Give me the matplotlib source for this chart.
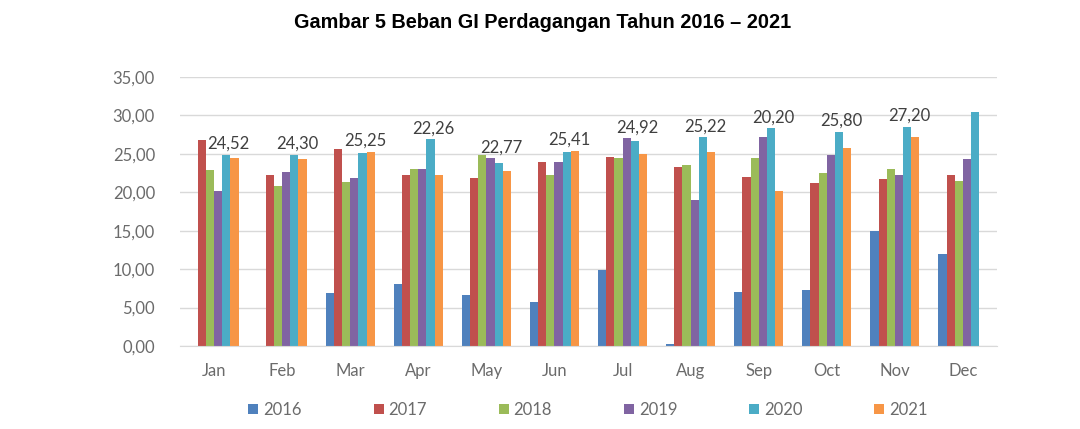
import numpy as np
import matplotlib.pyplot as plt
from matplotlib.ticker import FuncFormatter

# data
months = ['Jan', 'Feb', 'Mar', 'Apr', 'May', 'Jun', 'Jul', 'Aug', 'Sep', 'Oct', 'Nov', 'Dec']
years = ['2016', '2017', '2018', '2019', '2020', '2021']

y2016 = [0.0, 0.0, 6.85, 8.07, 6.6, 5.77, 9.9, 0.2, 7.0, 7.3, 15.0, 12.0]
y2017 = [26.8, 22.25, 25.6, 22.25, 21.8, 24.0, 24.6, 23.3, 22.0, 21.25, 21.7, 22.25]
y2018 = [22.9, 20.8, 21.4, 23.0, 24.85, 22.25, 24.4, 23.55, 24.5, 22.45, 23.0, 21.5]
y2019 = [20.2, 22.7, 21.8, 23.0, 24.4, 24.0, 27.0, 19.0, 27.15, 24.8, 22.3, 24.3]
y2020 = [24.85, 24.85, 25.1, 26.9, 23.85, 25.3, 26.7, 27.15, 28.3, 27.9, 28.5, 30.5]
y2021 = [24.52, 24.30, 25.25, 22.26, 22.77, 25.41, 24.92, 25.22, 20.20, 25.80, 27.20, np.nan]

series = [y2016, y2017, y2018, y2019, y2020, y2021]
colors = ['#4F81BD', '#C0504D', '#9BBB59', '#8064A2', '#4BACC6', '#F79646']

plt.rcParams['font.family'] = ['Lato', 'DejaVu Sans']

fig = plt.figure(figsize=(10.8, 4.29), dpi=100)
ax = fig.add_axes([180 / 1080, 1 - 346 / 429, (997 - 180) / 1080, (346 - 77) / 429])

x = np.arange(len(months))
w = 0.12
for i, (vals, c, yr) in enumerate(zip(series, colors, years)):
    ax.bar(x + (i - 2.5) * w, vals, width=w, color=c, label=yr, zorder=2)

# label 2021 di atas tiap kelompok
top3 = np.nanmax(np.array([y2019, y2020, y2021]), axis=0)
for i, v in enumerate(y2021):
    if np.isnan(v):
        continue
    ax.text(x[i] + 1.8 * w, top3[i] + 0.4, f'{v:.2f}'.replace('.', ','),
            ha='center', va='bottom', fontsize=12, color='#404040')

ax.set_xlim(-0.5, len(months) - 0.5)
ax.set_ylim(0, 35)
ax.set_yticks(np.arange(0, 36, 5))
ax.yaxis.set_major_formatter(FuncFormatter(lambda v, p: f'{v:.2f}'.replace('.', ',')))
ax.set_xticks(x)
ax.set_xticklabels(months)
ax.grid(axis='y', color='#D9D9D9', linewidth=1, zorder=0)
for s in ['top', 'right', 'left']:
    ax.spines[s].set_visible(False)
ax.spines['bottom'].set_color('#D9D9D9')
ax.tick_params(axis='both', length=0, labelsize=12, colors='#6b6b6b')
ax.tick_params(axis='y', pad=18)
ax.tick_params(axis='x', pad=12)

fig.suptitle('Gambar 5 Beban GI Perdagangan Tahun 2016 – 2021', x=543 / 1080, y=1 - 22 / 429,
             va='center', fontsize=14.3, fontweight='bold', family=['Liberation Sans'])

fig.legend(loc='center', bbox_to_anchor=(588 / 1080, 1 - 410 / 429), ncol=6, frameon=False,
           handlelength=0.6, handleheight=0.6, handletextpad=0.3, columnspacing=4.3,
           fontsize=12, labelcolor='#6b6b6b')

fig.savefig('out.png', dpi=100)
